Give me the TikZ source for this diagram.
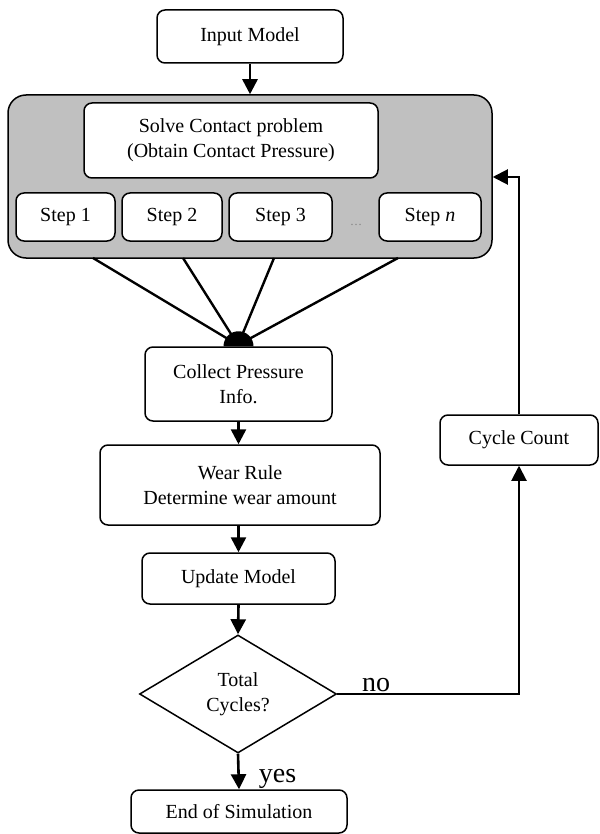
\documentclass[tikz,border=0pt]{standalone}
\usepackage{fontspec}
\setmainfont{Liberation Serif}
\usetikzlibrary{shapes.geometric,arrows.meta}

\tikzset{
  txt/.style={font=\fontsize{20}{25}\selectfont, align=center},
  box/.style={txt, draw, line width=1.5pt, rounded corners=8pt, fill=white,
              inner sep=0pt},
  stepbox/.style={box, minimum width=#1, minimum height=48pt},
  flow/.style={line width=2.6pt, -{Triangle[length=15pt,width=15pt]}},
  fanline/.style={line width=2.4pt},
  loopline/.style={line width=2pt},
  bigword/.style={font=\fontsize{28}{30}\selectfont, inner sep=0pt},
}
\definecolor{panelgray}{RGB}{192,192,192}

\begin{document}
\begin{tikzpicture}[x=1pt,y=-1pt]
  \useasboundingbox (0,0) rectangle (599,834);

  % top input
  \node[box, minimum width=186pt, minimum height=53pt] (input) at (250,36.5) {Input Model};

  % grey solver panel with its inner boxes
  \node[draw, line width=1.5pt, fill=panelgray, rounded corners=18pt,
        minimum width=484pt, minimum height=163pt, inner sep=0pt] (panel) at (250,176.5) {};
  \node[box, minimum width=294pt, minimum height=75pt] (solve) at (231,140.5)
       {Solve Contact problem\\(Obtain Contact Pressure)};
  \node[stepbox=99pt]  (s1) at (65.5,217) {Step 1};
  \node[stepbox=100pt] (s2) at (172,217)  {Step 2};
  \node[stepbox=103pt] (s3) at (280.5,217) {Step 3};
  \node[font=\fontsize{12}{12}\selectfont, text=gray] (dots) at (356,225) {\dots};
  \node[stepbox=102pt] (sn) at (430,217)  {Step \textit{n}};

  % collection and update chain
  \node[box, minimum width=187pt, minimum height=74pt] (collect) at (238.5,384)
       {Collect Pressure\\Info.};
  \node[box, minimum width=280pt, minimum height=80pt] (wear) at (240,485)
       {Wear Rule\\Determine wear amount};
  \node[box, minimum width=193pt, minimum height=51pt] (update) at (238.5,578.5)
       {Update Model};
  \node[txt, draw, line width=1.5pt, diamond, shape aspect=1.67, inner sep=0pt,
        minimum width=197pt, minimum height=118pt] (check) at (238,694)
       {Total\\Cycles?};
  \node[box, minimum width=158pt, minimum height=50pt] (cycle) at (519,440) {Cycle Count};

  % outcome labels
  \node[bigword, anchor=base] (nolbl)  at (376,691) {no};
  \node[bigword, anchor=base] (yeslbl) at (277.5,782) {yes};

  \node[box, minimum width=216pt, minimum height=43pt] (endsim) at (239,811.5)
       {End of Simulation};

  % fan of results into the collector
  \coordinate (join) at (238,345);
  \coordinate (f1) at (93,258);
  \coordinate (f2) at (183,258);
  \coordinate (f3) at (274,258);
  \coordinate (f4) at (398,258);
  \foreach \f in {f1,f2,f3,f4} \draw[fanline] (\f) -- (join);
  \fill (collect.north) ++(15,0) arc[start angle=0, end angle=-180, radius=15] -- cycle;

  % main flow
  \draw[flow] (input.south) -- (input.south |- panel.north);
  \draw[flow] (collect.south) -- (collect.south |- wear.north);
  \draw[flow] (update.north |- wear.south) -- (update.north);
  \draw[flow] (update.south) -- (check.north);
  \draw[flow] (check.south) -- (endsim.north);

  % loop back
  \coordinate (cornerlow) at (cycle.south |- check.east);
  \coordinate (cornerhigh) at (519,177);
  \draw[loopline, -{Triangle[length=15pt,width=15pt]}] (check.east) -- (cornerlow) -- (cycle.south);
  \draw[loopline, -{Triangle[length=15pt,width=15pt]}] (cycle.north) -- (cornerhigh) -- (cornerhigh -| panel.east);
\end{tikzpicture}
\end{document}
